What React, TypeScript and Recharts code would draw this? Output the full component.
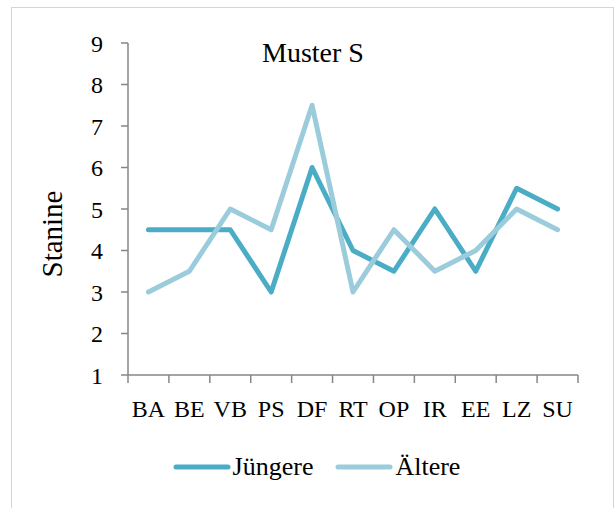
import { Customized, Label, Legend, Line, LineChart, XAxis, YAxis } from 'recharts';

const categories = ['BA', 'BE', 'VB', 'PS', 'DF', 'RT', 'OP', 'IR', 'EE', 'LZ', 'SU'];
const juengere = [4.5, 4.5, 4.5, 3, 6, 4, 3.5, 5, 3.5, 5.5, 5];
const aeltere = [3, 3.5, 5, 4.5, 7.5, 3, 4.5, 3.5, 4, 5, 4.5];
const yTicks = [1, 2, 3, 4, 5, 6, 7, 8, 9];

const data = categories.map((name, i) => ({ name, juengere: juengere[i], aeltere: aeltere[i] }));

const FONT = '"Liberation Serif", "Times New Roman", serif';
const AXIS = '#868686';
const X_TICK_SIZE = 8;
const X_TICK_MARGIN = 17;

// tick marks sit between the categories, labels at the band centre
function CategoryTick(props: any) {
    const { x, y, payload, index, visibleTicksCount } = props;
    const off = payload?.offset ?? 0;
    const top = y - X_TICK_SIZE - X_TICK_MARGIN;
    const last = index === visibleTicksCount - 1;
    return (
        <g>
            <line x1={x - off} x2={x - off} y1={top} y2={top + X_TICK_SIZE} stroke={AXIS} strokeWidth={1.5} />
            {last && <line x1={x + off} x2={x + off} y1={top} y2={top + X_TICK_SIZE} stroke={AXIS} strokeWidth={1.5} />}
            <text x={x} y={y} dy="0.71em" textAnchor="middle" fontFamily={FONT} fontSize={24} fill="#000">
                {payload.value}
            </text>
        </g>
    );
}

function LegendContent({ payload }: any) {
    return (
        <div style={{ display: 'flex', justifyContent: 'center', gap: 22, paddingLeft: 18, fontFamily: FONT, fontSize: 26 }}>
            {(payload || []).map((p: any) => (
                <div key={p.value} style={{ display: 'flex', alignItems: 'center' }}>
                    <svg width={58} height={10} style={{ marginRight: 2 }}>
                        <line x1={3} x2={55} y1={5} y2={5} stroke={p.color} strokeWidth={5} strokeLinecap="round" />
                    </svg>
                    <span>{p.value}</span>
                </div>
            ))}
        </div>
    );
}

export default function App() {
    return (
        <div style={{ position: 'absolute', left: 0, top: 0, width: 615, height: 508, background: '#fff', overflow: 'hidden' }}>
            <div style={{ position: 'absolute', left: 11, top: 7, width: 601, height: 520, border: '1px solid #d4d4d4' }} />
            <LineChart width={615} height={508} data={data} margin={{ top: 43, right: 37, left: 0, bottom: 0 }}>
                <XAxis
                    dataKey="name"
                    scale="band"
                    height={93}
                    tickSize={X_TICK_SIZE}
                    tickMargin={X_TICK_MARGIN}
                    tickLine={{ stroke: 'none' }}
                    axisLine={{ stroke: AXIS, strokeWidth: 1.5 }}
                    tick={<CategoryTick />}
                    interval={0}
                />
                <YAxis
                    domain={[1, 9]}
                    ticks={yTicks}
                    width={128}
                    tickSize={7}
                    tickMargin={18}
                    tickLine={{ stroke: AXIS, strokeWidth: 1.5 }}
                    axisLine={{ stroke: AXIS, strokeWidth: 1.5 }}
                    tick={{ fill: '#000', fontSize: 24, fontFamily: FONT }}
                    interval={0}
                >
                    <Label
                        content={(props: any) => {
                            const vb = props.viewBox || {};
                            const cx = 52;
                            const cy = vb.y + vb.height / 2 + 25;
                            return (
                                <text x={cx} y={cy} transform={`rotate(-90 ${cx} ${cy})`} textAnchor="middle" dominantBaseline="central" fontFamily={FONT} fontSize={29} fill="#000">
                                    Stanine
                                </text>
                            );
                        }}
                    />
                </YAxis>
                <Legend height={40} content={<LegendContent />} wrapperStyle={{ top: 452, bottom: 'auto', left: 0, width: 615 }} />
                <Customized
                    component={() => (
                        <text x={313} y={62} textAnchor="middle" fontFamily={FONT} fontSize={28} fill="#000">
                            Muster S
                        </text>
                    )}
                />
                <Line dataKey="juengere" name="Jüngere" stroke="#4BACC6" strokeWidth={5} dot={false} strokeLinejoin="round" strokeLinecap="round" isAnimationActive={false} />
                <Line dataKey="aeltere" name="Ältere" stroke="#9BCCDC" strokeWidth={5} dot={false} strokeLinejoin="round" strokeLinecap="round" isAnimationActive={false} />
            </LineChart>
        </div>
    );
}
